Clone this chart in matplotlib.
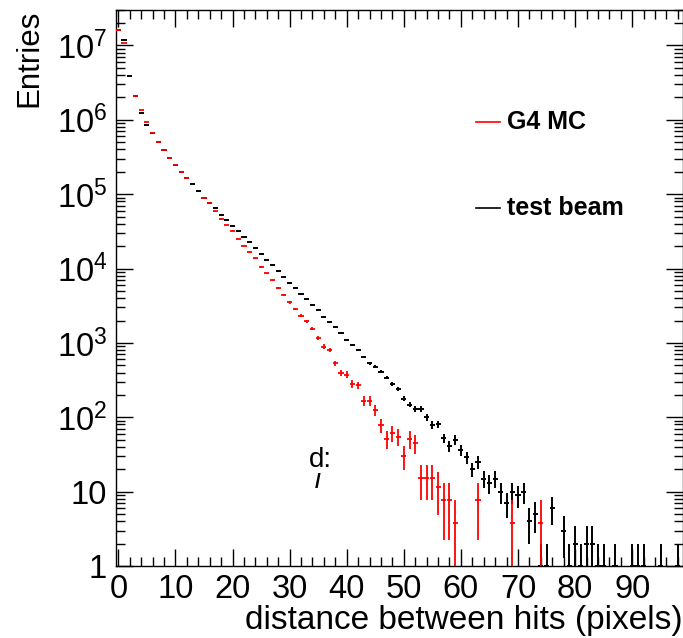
import numpy as np
import matplotlib
matplotlib.use("Agg")
from matplotlib import pyplot as plt
from matplotlib.lines import Line2D
from matplotlib.ticker import FixedLocator, FixedFormatter, LogLocator, MultipleLocator, NullFormatter

plt.rcParams['font.family'] = ['Liberation Sans', 'DejaVu Sans']
plt.rcParams['mathtext.fontset'] = 'custom'
plt.rcParams['mathtext.rm'] = 'Liberation Sans'
plt.rcParams['mathtext.it'] = 'Liberation Sans:italic'
plt.rcParams['mathtext.bf'] = 'Liberation Sans:bold'

# distance bins (pixels), one entry per bin
distance = list(range(99))

# test beam entries per bin
test_beam = [
    1.6e7, 1.175e7, 3.89e6, 2.07e6, 1.24e6, 8.53e5, 6.66e5, 4.99e5, 3.89e5, 3.04e5,
    2.45e5, 1.99e5, 1.63e5, 1.36e5, 1.09e5, 8.97e4, 7.57e4, 6.52e4, 5.30e4, 4.44e4,
    3.77e4, 3.16e4, 2.65e4, 2.27e4, 1.91e4, 1.58e4, 1.31e4, 1.10e4, 9140, 7760,
    6440, 5520, 4480, 3880, 3258, 2788, 2212, 1883, 1622, 1368,
    1101, 943, 807, 644, 535, 481, 412, 342, 282, 239,
    177, 148, 129, 129, 100, 79, 80, 53, 41, 50,
    36, 29, 20, 25, 15, 13, 15, 10, 7, 10,
    9, 10, 4, 5, 1, 1, 6, 0, 3, 1,
    2, 1, 2, 2, 1, 1, 0, 1, 0, 0,
    1, 1, 1, 0, 0, 1, 0, 0, 1,
]

# G4 MC (normalised), nan = bin not drawn
g4_mc = [
    1.6e7, 1.07e7, np.nan, 2.07e6, 1.36e6, 9.46e5, 6.66e5, 4.99e5, 3.89e5, 3.04e5,
    2.45e5, 1.99e5, 1.63e5, np.nan, np.nan, 8.97e4, 7.57e4, 5.87e4, 4.68e4, 3.85e4,
    3.23e4, 2.52e4, 2.03e4, 1.65e4, 1.38e4, 1.05e4, 8590, 6920, 5520, 4440,
    3500, 2860, 2317, 1953, 1549, 1172, 895, 802, 531, 396,
    376, 282, 270, 168, 166, 126, 78, 51, 62, 55,
    30, 51, 45, 15.3, 15.3, 15.3, 11.5, 7.7, 7.7, 3.8,
    0, 0, 0, 7.7, 0, 0, 0, 0, 0, 3.8,
    0, 0, 0, 0, 3.8, 0, 0, 0, 0, 0,
    0, 0, 0, 0, 0, 0, 0, 0, 0, 0,
    0, 0, 0, 0, 0, 0, 0, 0, 0,
]
mc_weight = 3.83  # weight of one MC entry

ytick_values = [1, 10, 1e2, 1e3, 1e4, 1e5, 1e6, 1e7]
ytick_labels = ['1', '10', r'$10^{2}$', r'$10^{3}$', r'$10^{4}$', r'$10^{5}$', r'$10^{6}$', r'$10^{7}$']
xtick_values = [0, 10, 20, 30, 40, 50, 60, 70, 80, 90]

fig = plt.figure(figsize=(6.83, 6.38), dpi=100)
W, H = 683.0, 638.0
ax = fig.add_axes([115.5 / W, 72 / H, (683 - 115.5) / W, 556 / H])

x = np.array(distance, dtype=float)
tb = np.array(test_beam, dtype=float)
mc = np.array(g4_mc, dtype=float)

# test beam: poisson errors
ok = tb > 0
ax.errorbar(x[ok], tb[ok], xerr=0.45, yerr=np.sqrt(tb[ok]), fmt='none',
            ecolor='black', elinewidth=1.4, capsize=0, zorder=2)

# MC: errors from the weight
ok = np.nan_to_num(mc) > 0
ax.errorbar(x[ok], mc[ok], xerr=0.45, yerr=np.sqrt(mc[ok] * mc_weight), fmt='none',
            ecolor='red', elinewidth=1.3, capsize=0, zorder=3)

ax.set_yscale('log')
ax.set_xlim(-0.5, 98.9)
ax.set_ylim(1, 3.0e7)

ax.yaxis.set_major_locator(FixedLocator(ytick_values))
ax.yaxis.set_major_formatter(FixedFormatter(ytick_labels))
ax.yaxis.set_minor_locator(LogLocator(base=10, subs=np.arange(2, 10)))
ax.yaxis.set_minor_formatter(NullFormatter())
ax.xaxis.set_major_locator(FixedLocator(xtick_values))
ax.xaxis.set_minor_locator(MultipleLocator(2))

ax.tick_params(which='both', direction='in', top=True, right=True, width=1, colors='black')
ax.tick_params(which='major', length=12, labelsize=23.5, pad=6)
ax.tick_params(which='minor', length=6.5)
ax.tick_params(axis='x', which='major', pad=6)

for sp in ax.spines.values():
    sp.set_linewidth(1)

ax.set_xlabel('distance between hits (pixels)', fontsize=24, loc='right', labelpad=0)
ax.set_ylabel('Entries', fontsize=22.5, loc='top', labelpad=9)

# legend (drawn by hand, like the TLegend)
fig.add_artist(Line2D([476 / W, 500 / W], [1 - 122 / H, 1 - 122 / H], color='red', lw=1.2))
fig.text(507 / W, 1 - 122 / H, 'G4 MC', fontsize=18, fontweight='bold', va='center', ha='left')
fig.add_artist(Line2D([476 / W, 500 / W], [1 - 208 / H, 1 - 208 / H], color='black', lw=1.2))
fig.text(507 / W, 1 - 208 / H, 'test beam', fontsize=18, fontweight='bold', va='center', ha='left')

# leftovers of a covered text box
fig.text(309 / W, 1 - 460 / H, 'd:', fontsize=20, va='center', ha='left')
fig.text(315 / W, 1 - 483 / H, '/', fontsize=15, va='center', ha='left', fontweight='bold')

plt.savefig('out.png', dpi=100)
plt.close()
